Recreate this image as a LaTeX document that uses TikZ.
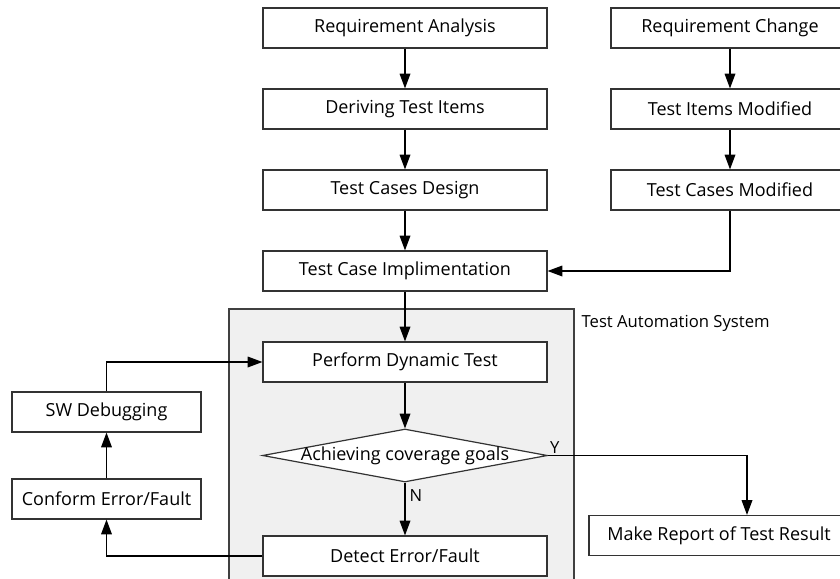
\documentclass[tikz,border=0pt]{standalone}
\usepackage{fontspec}
\setmainfont{Open Sans}
\usetikzlibrary{positioning,shapes.geometric,arrows.meta}
\tikzset{
   box/.style={draw=black!80, line width=0.9pt, fill=white, minimum width=213pt,
      minimum height=30pt, inner sep=0pt, font=\fontsize{13.5}{16}\selectfont},
   sidebox/.style={box, minimum width=178.5pt},
   decide/.style={diamond, draw=black!80, line width=0.9pt, fill=white,
      minimum width=213.75pt, minimum height=39.75pt, inner sep=0pt},
   flow/.style={->, line width=0.9pt},
   tag/.style={font=\fontsize{12.5}{15}\selectfont, inner sep=1pt}
}
\begin{document}
   \begin{tikzpicture}[x=0.75pt, y=-0.75pt, >={Triangle[length=11pt,width=8pt]}]
      \useasboundingbox (0,0) rectangle (840,579);

      \filldraw[fill=black!6, draw=black!75, line width=0.9pt] (229,309) rectangle (574,600);
      \node[tag, anchor=west] (tas) at (580,323) {Test Automation System};

      \node[box] (a1) at (405,28) {Requirement Analysis};
      \node[box, below=29.85pt of a1] (a2) {Deriving Test Items};
      \node[box, below=29.85pt of a2] (a3) {Test Cases Design};
      \node[box, below=29.85pt of a3] (a4) {Test Case Implimentation};
      \node[box, below=37.35pt of a4] (t1) {Perform Dynamic Test};
      \node[decide, below=34.35pt of t1,
         label={[box, draw=none, fill=none]center:Achieving coverage goals}] (t2) {};
      \node[box, below=39.6pt of t2] (t3) {Detect Error/Fault};

      \node[sidebox] (c1) at (730,28) {Requirement Change};
      \node[sidebox, below=29.85pt of c1] (c2) {Test Items Modified};
      \node[sidebox, below=29.85pt of c2] (c3) {Test Cases Modified};

      \node[box, minimum width=195pt] (r1) at (719,535.5) {Make Report of Test Result};

      \node[box, minimum width=141.75pt] (d2) at (106.5,499) {Conform Error/Fault};
      \node[box, minimum width=141.75pt, above=34.35pt of d2] (d1) {SW Debugging};

      \draw[flow] (a1) -- (a2);
      \draw[flow] (a2) -- (a3);
      \draw[flow] (a3) -- (a4);
      \draw[flow] (a4) -- (t1);
      \draw[flow] (t1) -- (t2);
      \draw[flow] (t2) -- node[tag, right=2pt, pos=0.25] {N} (t3);
      \draw[flow] (c1) -- (c2);
      \draw[flow] (c2) -- (c3);
      \draw[flow] (c3.south) |- (a4.east);
      \draw[flow] (t2.east) node[tag, above right] {Y} -| ([xshift=21pt]r1.north);
      \draw[flow] (t3.west) -| (d2.south);
      \draw[flow] (d2) -- (d1);
      \draw[flow] (d1.north) |- (t1.west);
   \end{tikzpicture}
\end{document}
